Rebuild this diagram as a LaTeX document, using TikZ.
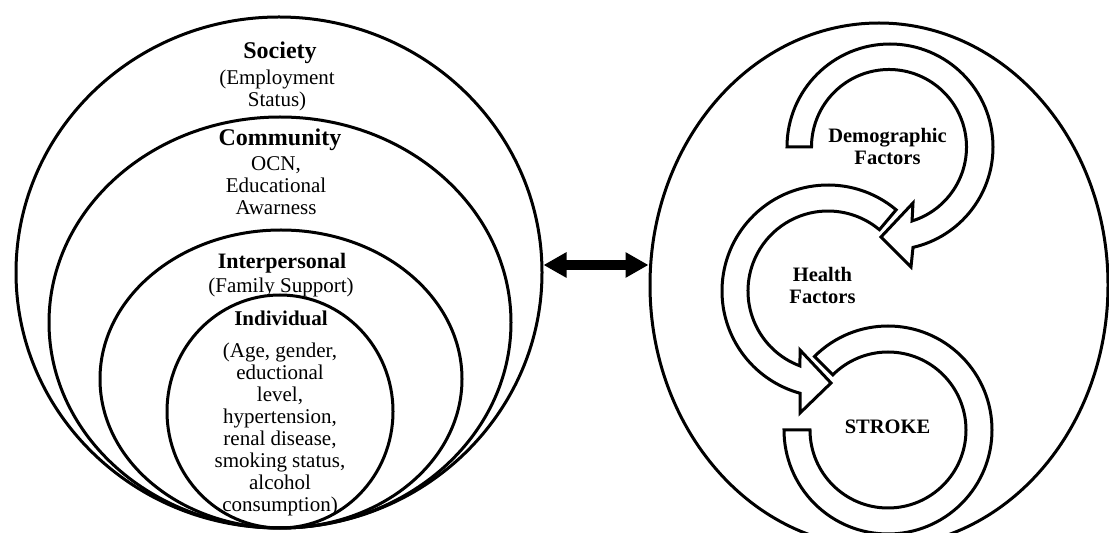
\documentclass[tikz,border=0pt]{standalone}
\usepackage{fontspec}
\setmainfont{Liberation Serif}
\usetikzlibrary{shapes.geometric,arrows.meta}
\begin{document}
\begin{tikzpicture}[x=1pt,y=1pt,
  ring/.style={draw, ellipse, line width=3pt, inner sep=0pt},
  blockarrow/.style={draw, fill=white, line width=3pt, line join=miter},
  body/.style={font=\fontsize{21}{22}\selectfont, align=center, inner sep=0pt},
  headA/.style={font=\bfseries\fontsize{24}{26}\selectfont, inner sep=0pt},
  headB/.style={font=\bfseries\fontsize{22}{24}\selectfont, inner sep=0pt},
  headC/.style={font=\bfseries\fontsize{21}{23}\selectfont, inner sep=0pt},
  rhead/.style={font=\bfseries\fontsize{20.5}{22}\selectfont, align=center, inner sep=0pt},
  dbl/.style={line width=10pt, {Triangle[length=23pt,width=24pt]}-{Triangle[length=23pt,width=24pt]}}]
\useasboundingbox (0,0) rectangle (1109,533);

% left nested ellipses
\node[ring, minimum width=526pt, minimum height=511pt] (society) at (279,260.5) {};
\node[ring, minimum width=462pt, minimum height=411pt] (community) at (280,210.5) {};
\node[ring, minimum width=362pt, minimum height=298pt] (interpersonal) at (281,154) {};
\node[ring, minimum width=226pt, minimum height=233pt] (individual) at (280,121.5) {};

% right frame
\node[ring, minimum width=458pt, minimum height=524pt] (frame) at (879,248) {};

% block arc arrows
% Demographic
\path[blockarrow] (787,386) arc[start angle=180, end angle=-77.1, radius=103]
  -- (911,266) -- (881,296) -- (913,330)
  -- ([shift={(889,386)}]-72.7:77.5) arc[start angle=-72.7, end angle=180, radius=77.5] -- cycle;
% Health
\path[blockarrow] ([shift={(828,242)}]50:106) arc[start angle=50, end angle=254.7, radius=106]
  -- (800,120) -- (831,150) -- (800,183)
  -- ([shift={(828,242)}]249.5:80) arc[start angle=249.5, end angle=50, radius=80] -- cycle;
% Stroke
\path[blockarrow] ([shift={(888,103)}]135:104) arc[start angle=135, end angle=-180, radius=104]
  -- ([shift={(888,103)}]180:78) arc[start angle=-180, end angle=135, radius=78] -- cycle;

% labels left
\node[headA] (socT) at (280,480) {Society};
\node[body] (socB) at (277,443) {(Employment\\Status)};
\node[headA] (comT) at (280,393) {Community};
\node[body] (comB) at (276,347.5) {OCN,\\Educational\\Awarness};
\node[headB] (intT) at (282,270) {Interpersonal};
\node[body] (intB) at (281,246) {(Family Support)};
\node[headC] (indT) at (281,215) {Individual};
\node[body] (indB) at (280,103.5) {(Age, gender,\\eductional\\level,\\hypertension,\\renal disease,\\smoking status,\\alcohol\\consumption)};

% labels right
\node[rhead] (demT) at (887.5,387) {Demographic\\Factors};
\node[rhead] (heaT) at (822.5,247.5) {Health\\Factors};
\node[rhead] (strT) at (887.5,106) {STROKE};

% double arrow
\coordinate (m) at (595,268);
\draw[dbl] (society.east |- m) -- (frame.west |- m);
\end{tikzpicture}
\end{document}
